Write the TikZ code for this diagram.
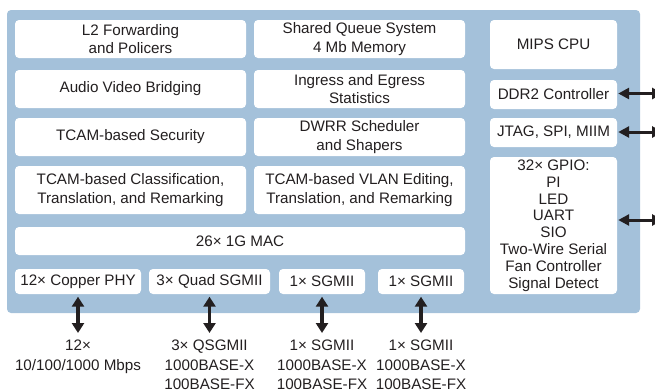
\documentclass[tikz,border=0pt]{standalone}
\usepackage{fontspec}
\setmainfont{Liberation Sans}
\usetikzlibrary{arrows.meta}
\definecolor{panel}{RGB}{164,193,218}
\definecolor{ink}{RGB}{35,31,32}
\tikzset{
  box/.style={fill=white, rounded corners=4pt, inner sep=0pt, align=center, text=ink,
    font=\fontsize{15.2}{18.5}\selectfont},
  gpiobox/.style={box, font=\fontsize{15.2}{16.8}\selectfont},
  lbl/.style={inner sep=0pt, align=center, text=ink, font=\fontsize{15.2}{19.5}\selectfont},
  arr/.style={draw=ink, line width=3.2pt, {Triangle[width=12pt,length=10pt]}-{Triangle[width=12pt,length=10pt]}},
  harr/.style={draw=ink, line width=3pt, {Triangle[width=11pt,length=11pt]}-{Triangle[width=11pt,length=11pt]}}
}
\begin{document}
\begin{tikzpicture}[x=1pt,y=-1pt]
\useasboundingbox (0,0) rectangle (655,391);
\fill[panel, rounded corners=4pt] (7,10) rectangle (640,313);
% left column
\node[box, minimum width=231pt, minimum height=38pt] (l2) at (130.5,39) {L2 Forwarding\\and Policers};
\node[box, minimum width=231pt, minimum height=38pt] (avb) at (130.5,89) {Audio Video Bridging};
\node[box, minimum width=231pt, minimum height=38pt] (sec) at (130.5,137) {TCAM-based Security};
\node[box, minimum width=231pt, minimum height=48pt] (cls) at (130.5,190) {TCAM-based Classification,\\Translation, and Remarking};
% middle column
\node[box, minimum width=211pt, minimum height=38pt] (sqs) at (359.5,39) {Shared Queue System\\4 Mb Memory};
\node[box, minimum width=211pt, minimum height=38pt] (ies) at (359.5,89) {Ingress and Egress\\Statistics};
\node[box, minimum width=211pt, minimum height=38pt] (dwrr) at (359.5,137) {DWRR Scheduler\\and Shapers};
\node[box, minimum width=211pt, minimum height=48pt] (vlan) at (359.5,190) {TCAM-based VLAN Editing,\\Translation, and Remarking};
% MAC
\node[box, minimum width=450pt, minimum height=28pt] (mac) at (240,241) {26\texttimes{} 1G MAC};
% PHY row
\node[box, minimum width=126pt, minimum height=25pt] (p1) at (78,281.5) {12\texttimes{} Copper PHY};
\node[box, minimum width=121pt, minimum height=25pt] (p2) at (209.5,281.5) {3\texttimes{} Quad SGMII};
\node[box, minimum width=86pt, minimum height=25pt] (p3) at (322,281.5) {1\texttimes{} SGMII};
\node[box, minimum width=86pt, minimum height=25pt] (p4) at (421,281.5) {1\texttimes{} SGMII};
% right column
\node[box, minimum width=127pt, minimum height=49pt] (cpu) at (553.5,44.5) {MIPS CPU};
\node[box, minimum width=127pt, minimum height=29pt] (ddr) at (553.5,94.5) {DDR2 Controller};
\node[box, minimum width=127pt, minimum height=29pt] (jtag) at (553.5,132.5) {JTAG, SPI, MIIM};
\node[gpiobox, minimum width=127pt, minimum height=137pt] (gpio) at (553.5,225.5) {32\texttimes{} GPIO:\\PI\\LED\\UART\\SIO\\Two-Wire Serial\\Fan Controller\\Signal Detect};
% right arrows
\coordinate (ddrout) at (663,93.5);
\coordinate (jtagout) at (663,132);
\coordinate (gpioout) at (663,220);
\draw[harr, shorten <=1pt] (ddr.east |- ddrout) -- (ddrout);
\draw[harr, shorten <=1pt] (jtag.east |- jtagout) -- (jtagout);
\draw[harr, shorten <=1pt] (gpio.east |- gpioout) -- (gpioout);
% bottom labels
\node[lbl, anchor=north] (b1) at (78,340) {12\texttimes\\10/100/1000 Mbps};
\node[lbl, anchor=north] (b2) at (209.5,340) {3\texttimes{} QSGMII\\1000BASE-X\\100BASE-FX};
\node[lbl, anchor=north] (b3) at (322,340) {1\texttimes{} SGMII\\1000BASE-X\\100BASE-FX};
\node[lbl, anchor=north] (b4) at (421,340) {1\texttimes{} SGMII\\1000BASE-X\\100BASE-FX};
\draw[arr, shorten <=2.5pt, shorten >=7pt] (p1.south) -- (b1.north);
\draw[arr, shorten <=2.5pt, shorten >=7pt] (p2.south) -- (b2.north);
\draw[arr, shorten <=2.5pt, shorten >=7pt] (p3.south) -- (b3.north);
\draw[arr, shorten <=2.5pt, shorten >=7pt] (p4.south) -- (b4.north);
\end{tikzpicture}
\end{document}
